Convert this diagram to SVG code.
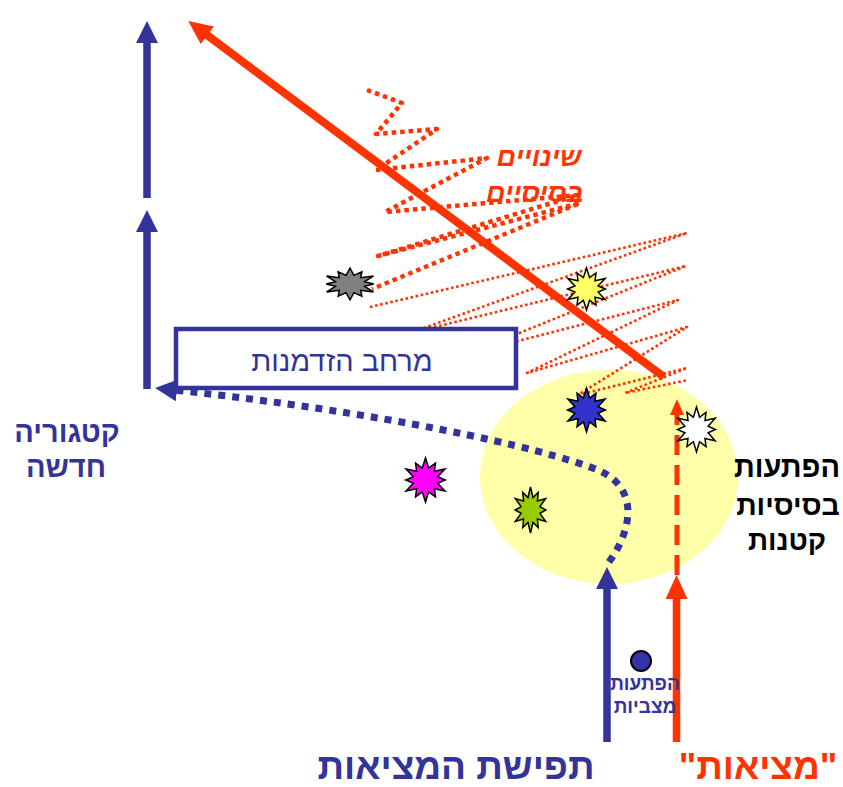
<svg xmlns="http://www.w3.org/2000/svg" xmlns:xlink="http://www.w3.org/1999/xlink" width="843" height="787" viewBox="0 0 843 787">
<style>
.t{font-family:"Liberation Sans","DejaVu Sans","Noto Sans",sans-serif;text-anchor:middle}
.b{font-weight:bold}
.blue{fill:#333399}
.red{fill:#FF3300}
.shb{stroke:#333399;stroke-width:7.5;fill:none}
.shr{stroke:#FF3300;stroke-width:7.5;fill:none}
.zz1{stroke:#FF3300;stroke-width:4.5;stroke-dasharray:4.5 4;fill:none;stroke-linejoin:round}
.zz2{stroke:#FF3300;stroke-width:2.6;stroke-dasharray:2.6 2.6;fill:none;stroke-linejoin:round}
</style>
<defs>
<marker id="hb" markerUnits="userSpaceOnUse" markerWidth="24" markerHeight="24" viewBox="0 0 24 24" refX="3" refY="11" orient="auto"><path d="M0,0 L22,11 L0,22 z" fill="#333399"/></marker>
<marker id="hr" markerUnits="userSpaceOnUse" markerWidth="26" markerHeight="24" viewBox="0 0 26 24" refX="3" refY="11" orient="auto"><path d="M0,0 L24,11 L0,22 z" fill="#FF3300"/></marker>
<marker id="hrs" markerUnits="userSpaceOnUse" markerWidth="18" markerHeight="16" viewBox="0 0 18 16" refX="2" refY="7" orient="auto"><path d="M0,0 L16,7 L0,14 z" fill="#FF3300"/></marker>
<path id="burst" vector-effect="non-scaling-stroke" stroke="#000" stroke-width="1.5" d="M50,0 L57.2,22.9 L72,11.9 L69.8,30.2 L93.3,25 L77,42.7 L94,50 L77,57.3 L93.3,75 L69.8,69.8 L72,88.1 L57.2,77 L50,100 L42.8,77 L28,88.1 L30.2,69.8 L6.7,75 L23,57.3 L6,50 L23,42.7 L6.7,25 L30.2,30.2 L28,11.9 L42.8,22.9 Z"/>
</defs>

<g id="zone">
<ellipse cx="609" cy="477" rx="129" ry="107" fill="#FFFFAA"/>
</g>

<g id="changes">
<path class="zz1" d="M367,90 L402,103 L376,134 L437,129 L376,170 L487,158 L385,212 L578,195 L378,256 L580,203 L372,289"/>
<path class="zz2" d="M370,307 L687,233 L410,333 L686,266 L467,354 L678,300 L527,373 L687,327 L578,395 L687,368 L625,393 L688,380"/>
</g>

<g id="connectors">
<path class="shb" d="M147,198 L147,40" marker-end="url(#hb)"/>
<path class="shb" d="M147,389 L147,229" marker-end="url(#hb)"/>
<path class="shb" d="M607,742 L607,586" marker-end="url(#hb)"/>
<path class="shr" d="M676.5,742 L676.5,596" marker-end="url(#hr)"/>
<path stroke="#FF3300" stroke-width="5" stroke-dasharray="20 10" fill="none" d="M677,575 L677,413" marker-end="url(#hrs)"/>
<path stroke="#FF3300" stroke-width="8" fill="none" d="M664,377 L205,33.5" marker-end="url(#hr)"/>
<path stroke="#333399" stroke-width="7" stroke-dasharray="7 7" fill="none" d="M609,562 C632,530 640,488 598,470 C540,447 380,412 174,390" marker-end="url(#hb)"/>
</g>

<g id="opportunity">
<rect x="176" y="329" width="340" height="59" fill="#fff" stroke="#333399" stroke-width="4.5"/>
<text class="t blue" x="342" y="371" font-size="29">מרחב הזדמנות</text>
</g>

<g id="stars">
<use xlink:href="#burst" transform="translate(323,268) scale(0.54,0.32)" fill="#808080"/>
<use xlink:href="#burst" transform="translate(565,268) scale(0.43,0.42)" fill="#FFFF66"/>
<use xlink:href="#burst" transform="translate(565,388) scale(0.43,0.44)" fill="#3333CC"/>
<use xlink:href="#burst" transform="translate(675,407) scale(0.43,0.45)" fill="#FFFFFF"/>
<use xlink:href="#burst" transform="translate(403,458) scale(0.45,0.44)" fill="#FF00FF"/>
<use xlink:href="#burst" transform="translate(513,487) scale(0.35,0.46)" fill="#99CC00"/>
</g>

<g id="dot">
<circle cx="641" cy="661" r="10" fill="#3333AA" stroke="#000" stroke-width="2"/>
</g>

<g id="labels">
<text class="t b red" x="539" y="166" font-size="27" font-style="italic">שינויים</text>
<text class="t b red" x="535" y="202" font-size="27" font-style="italic">בסיסיים</text>
<text class="t b blue" x="67" y="442" font-size="29">קטגוריה</text>
<text class="t b blue" x="66" y="477" font-size="29">חדשה</text>
<text class="t b" x="787" y="477" font-size="29" fill="#000">הפתעות</text>
<text class="t b" x="788" y="515" font-size="28.5" fill="#000">בסיסיות</text>
<text class="t b" x="787" y="550" font-size="28" fill="#000">קטנות</text>
<text class="t b blue" x="645" y="690" font-size="19">הפתעות</text>
<text class="t b blue" x="645" y="713" font-size="19">מצביות</text>
<text class="t b blue" x="456" y="779" font-size="37">תפישת המציאות</text>
<text class="t b red" x="758" y="779" font-size="37">"מציאות"</text>
</g>
</svg>
